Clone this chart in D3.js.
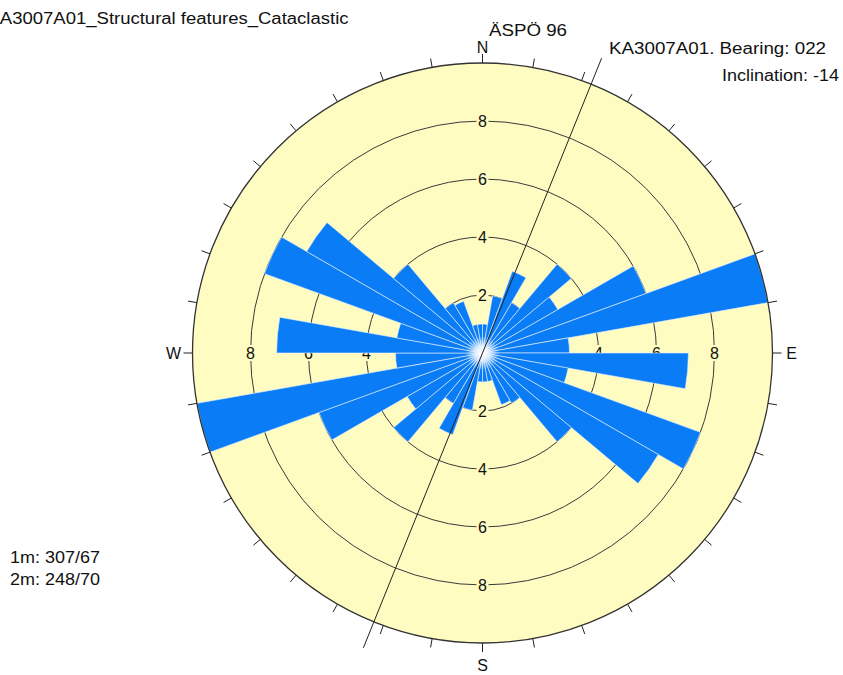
<!DOCTYPE html>
<html>
<head>
<meta charset="utf-8">
<script src="https://cdn.jsdelivr.net/npm/d3@7/dist/d3.min.js"></script>
<style>
  html, body { margin: 0; padding: 0; background: #ffffff; overflow: hidden; }
  svg { display: block; }
  text { font-family: Arial, "Liberation Sans", sans-serif; fill: #111; }
</style>
</head>
<body>
<svg id="chart" width="843" height="675"></svg>
<script>
// ---- Data ----
// Bin start bearings (degrees), 10° wide; bidirectional rose (mirrored +180°)
const binStarts = [0, 10, 20, 30, 40, 50, 60, 70, 80, 90, 100, 110, 120, 130, 140, 150, 160, 170];
const binCounts = [1.0, 2.0, 3.0, 2.0, 4.0, 3.0, 6.0, 10.0, 3.0, 7.1, 3.0, 8.0, 7.0, 4.0, 2.0, 1.9, 1.0, 1.0];
const ringValues = [2, 4, 6, 8, 10];
const ringLabelValues = [2, 4, 6, 8];
const compassLabels = [{ name: "N", bearing: 0 }, { name: "E", bearing: 90 }, { name: "S", bearing: 180 }, { name: "W", bearing: 270 }];
const tickBearings = d3.range(0, 360, 10);
const boreholeBearing = 22;
const titleText = "KA3007A01_Structural features_Cataclastic";
const siteText = "ÄSPÖ 96";
const boreholeText = "KA3007A01. Bearing: 022";
const inclinationText = "Inclination: -14";
const maximaTexts = ["1m: 307/67", "2m: 248/70"];

// ---- Layout ----
const cx = 482.5, cy = 353, R = 290;
const svg = d3.select("#chart");
const r = d3.scaleLinear().domain([0, 10]).range([0, R]);
const rad = d => d * Math.PI / 180;
const pol = (bearing, radius) => [cx + radius * Math.sin(rad(bearing)), cy - radius * Math.cos(rad(bearing))];

const g = svg.append("g");

// background disc
g.append("circle").attr("cx", cx).attr("cy", cy).attr("r", R)
  .attr("fill", "#FFFCC2").attr("stroke", "none");

// rings
g.selectAll("circle.ring").data(ringValues.slice(0, -1)).join("circle")
  .attr("class", "ring").attr("cx", cx).attr("cy", cy).attr("r", d => r(d))
  .attr("fill", "none").attr("stroke", "#3a3a3a").attr("stroke-width", 1);

// ring labels along the four axes
const labelData = [];
ringLabelValues.forEach(v => {
  [0, 90, 180, 270].forEach(b => labelData.push({ v, b }));
});
const lg = g.append("g");
labelData.forEach(d => {
  const [x, y] = pol(d.b, r(d.v));
  lg.append("rect").attr("x", x - 6).attr("y", y - 8).attr("width", 12).attr("height", 16)
    .attr("fill", "#FFFCC2");
  lg.append("text").attr("x", x).attr("y", y).attr("text-anchor", "middle")
    .attr("dominant-baseline", "central").attr("font-size", 16).text(d.v);
});

// petals
const arc = d3.arc().innerRadius(0);
const petals = [];
binStarts.forEach((s, i) => {
  petals.push({ start: s, value: binCounts[i] });
  petals.push({ start: s + 180, value: binCounts[i] });
});
g.append("g").attr("transform", `translate(${cx},${cy})`)
  .selectAll("path").data(petals).join("path")
  .attr("d", d => arc({ outerRadius: r(d.value), startAngle: rad(d.start), endAngle: rad(d.start + 10) }))
  .attr("fill", "#0A7DF6")
  .attr("stroke", "#e8f2ff").attr("stroke-width", 0.7).attr("stroke-opacity", 0.85);

// white glow at the center
const defs = svg.append("defs");
const grad = defs.append("radialGradient").attr("id", "glow");
grad.append("stop").attr("offset", "0%").attr("stop-color", "#ffffff").attr("stop-opacity", 1);
grad.append("stop").attr("offset", "45%").attr("stop-color", "#ffffff").attr("stop-opacity", 0.7);
grad.append("stop").attr("offset", "100%").attr("stop-color", "#ffffff").attr("stop-opacity", 0);
g.append("circle").attr("cx", cx).attr("cy", cy).attr("r", 17).attr("fill", "url(#glow)");

// outer circle
g.append("circle").attr("cx", cx).attr("cy", cy).attr("r", R)
  .attr("fill", "none").attr("stroke", "#333").attr("stroke-width", 1.3);

// ticks
g.selectAll("line.tick").data(tickBearings).join("line").attr("class", "tick")
  .attr("x1", d => pol(d, R)[0]).attr("y1", d => pol(d, R)[1])
  .attr("x2", d => pol(d, R + 9)[0]).attr("y2", d => pol(d, R + 9)[1])
  .attr("stroke", "#222").attr("stroke-width", 1);

// compass letters
const compassOffset = { N: 307 - 1, E: 309, S: 312, W: 309 };
compassLabels.forEach(c => {
  const [x, y] = pol(c.bearing, compassOffset[c.name]);
  g.append("text").attr("x", x).attr("y", y).attr("text-anchor", "middle")
    .attr("dominant-baseline", "central").attr("font-size", 16).text(c.name);
});

// borehole line
const [bx1, by1] = pol(boreholeBearing, 318);
const [bx2, by2] = pol(boreholeBearing + 180, 318);
g.append("line").attr("x1", bx1).attr("y1", by1).attr("x2", bx2).attr("y2", by2)
  .attr("stroke", "#222").attr("stroke-width", 1);

// texts (horizontally stretched like the reference)
const stretched = (x, y, size, len, txt) =>
  svg.append("text").attr("x", x).attr("y", y).attr("font-size", size)
    .attr("textLength", len).attr("lengthAdjust", "spacingAndGlyphs").text(txt);
stretched(-12.5, 24, 16, 361, titleText);
stretched(489, 36, 16, 78, siteText);
stretched(609, 54, 16, 217, boreholeText);
stretched(722, 81, 16, 117, inclinationText);
maximaTexts.forEach((t, i) => {
  stretched(10, 563 + i * 22, 16, 90, t);
});
</script>
</body>
</html>
